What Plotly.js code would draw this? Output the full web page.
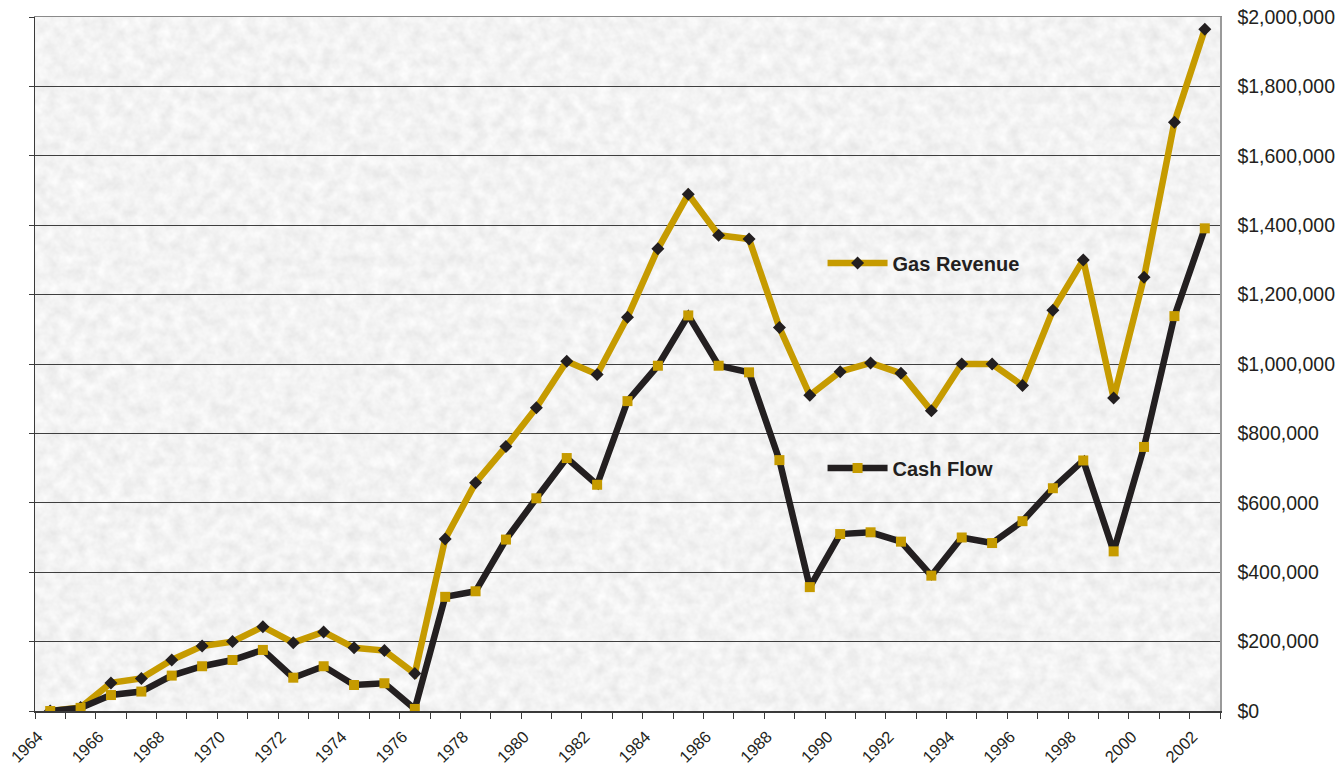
<!DOCTYPE html>
<html>
<head>
<meta charset="utf-8">
<script src="https://cdn.plot.ly/plotly-3.0.1.min.js"></script>
<style>
  html, body { margin: 0; padding: 0; background: #ffffff; }
  #chart { width: 1336px; height: 768px; }
</style>
</head>
<body>
<div id="chart"></div>
<script>
// ---- data ----
const years = [1964, 1965, 1966, 1967, 1968, 1969, 1970, 1971, 1972, 1973, 1974, 1975, 1976,
               1977, 1978, 1979, 1980, 1981, 1982, 1983, 1984, 1985, 1986, 1987, 1988, 1989,
               1990, 1991, 1992, 1993, 1994, 1995, 1996, 1997, 1998, 1999, 2000, 2001, 2002];

const gasRevenue = [0, 10000, 81000, 94000, 147000, 187000, 200000, 243000, 197000, 228000, 182000, 174000, 108000,
                    496000, 658000, 762000, 874000, 1008000, 970000, 1135000, 1332000, 1489000, 1371000, 1360000, 1105000, 910000,
                    978000, 1003000, 973000, 865000, 1000000, 1000000, 938000, 1155000, 1300000, 902000, 1250000, 1697000, 1965000];

const cashFlow = [0, 9000, 46000, 56000, 102000, 129000, 147000, 176000, 96000, 129000, 75000, 80000, 6000,
                  329000, 345000, 494000, 613000, 729000, 652000, 893000, 995000, 1140000, 995000, 976000, 723000, 357000,
                  510000, 515000, 488000, 390000, 500000, 484000, 547000, 642000, 722000, 460000, 761000, 1138000, 1391000];

const seriesNames = ["Gas Revenue", "Cash Flow"];
const xTickLabels = ["1964", "1966", "1968", "1970", "1972", "1974", "1976", "1978", "1980", "1982",
                     "1984", "1986", "1988", "1990", "1992", "1994", "1996", "1998", "2000", "2002"];
const yTickValues = [0, 200000, 400000, 600000, 800000, 1000000, 1200000, 1400000, 1600000, 1800000, 2000000];
const yTickLabels = ["$0", "$200,000", "$400,000", "$600,000", "$800,000", "$1,000,000",
                     "$1,200,000", "$1,400,000", "$1,600,000", "$1,800,000", "$2,000,000"];

// ---- styling ----
const GOLD = "#c69b00";
const DARK = "#231f20";
const FONT = "Liberation Sans, Arial, Helvetica, sans-serif";
const LABEL_SHIFT = -0.4;   // rotated year labels sit slightly left of their category

// procedural paper-like texture for the plot background
const texSvg =
  '<svg xmlns="http://www.w3.org/2000/svg" width="1185" height="694">' +
  '<filter id="n" x="0" y="0" width="100%" height="100%">' +
  '<feTurbulence type="fractalNoise" baseFrequency="0.08" numOctaves="3" seed="7"/>' +
  '<feColorMatrix type="matrix" values="0.24 0 0 0 0.775  0.24 0 0 0 0.775  0.24 0 0 0 0.775  0 0 0 0 1"/>' +
  '</filter>' +
  '<rect width="100%" height="100%" fill="#e6e6e6"/>' +
  '<rect width="100%" height="100%" filter="url(#n)"/>' +
  '</svg>';
const texUri = "data:image/svg+xml;charset=utf-8," + encodeURIComponent(texSvg);

const traces = [
  {
    type: "scatter", mode: "lines+markers",
    name: seriesNames[0], x: years, y: gasRevenue,
    line: { color: GOLD, width: 6.5 },
    marker: { symbol: "diamond", color: DARK, size: 10 },
    legend: "legend"
  },
  {
    type: "scatter", mode: "lines+markers",
    name: seriesNames[1], x: years, y: cashFlow,
    line: { color: DARK, width: 6.5 },
    marker: { symbol: "square", color: GOLD, size: 10 },
    legend: "legend2"
  }
];

const legendCommon = {
  bgcolor: "rgba(0,0,0,0)",
  borderwidth: 0,
  xanchor: "left",
  yanchor: "middle",
  itemwidth: 60,
  font: { family: FONT, size: 20, color: DARK, weight: "bold" },
  itemclick: false,
  itemdoubleclick: false
};

const layout = {
  width: 1336,
  height: 768,
  margin: { l: 35, r: 116, t: 17, b: 57, pad: 0 },
  paper_bgcolor: "#ffffff",
  plot_bgcolor: "#e6e6e6",
  showlegend: true,
  legend: Object.assign({}, legendCommon, { x: 0.6646, y: 0.6455 }),
  legend2: Object.assign({}, legendCommon, { x: 0.6646, y: 0.350 }),
  images: [{
    source: texUri, xref: "paper", yref: "paper",
    x: 0, y: 1, sizex: 1, sizey: 1, sizing: "stretch",
    xanchor: "left", yanchor: "top", layer: "below"
  }],
  xaxis: {
    range: [1963.5, 2002.5],
    tickmode: "array",
    tickvals: xTickLabels.map(function (s) { return Number(s) + LABEL_SHIFT; }),
    ticktext: xTickLabels,
    ticks: "",
    tickangle: -45,
    ticklabelstandoff: 8,
    tickfont: { family: FONT, size: 16.5, color: DARK },
    showgrid: false, zeroline: false,
    showline: true, linecolor: "#3a3a3a", linewidth: 1.5,
    mirror: false,
    minor: { ticks: "outside", tick0: 1963.5, dtick: 1, ticklen: 6, tickcolor: "#3a3a3a", tickwidth: 1, showgrid: false },
    fixedrange: true
  },
  xaxis2: {
    overlaying: "x", side: "top", range: [1963.5, 2002.5],
    showticklabels: false, ticks: "", showgrid: false, zeroline: false,
    showline: true, linecolor: "#8a8a8a", linewidth: 1.5
  },
  yaxis: {
    range: [0, 2000000],
    tickvals: yTickValues,
    showticklabels: false,
    ticks: "outside", ticklen: 5, tickcolor: "#3a3a3a", tickwidth: 1,
    showgrid: true, gridcolor: "#3e3e3e", gridwidth: 1,
    zeroline: false,
    showline: true, linecolor: "#3a3a3a", linewidth: 1.5,
    fixedrange: true
  },
  yaxis2: {
    overlaying: "y", side: "right", range: [0, 2000000],
    tickmode: "array",
    tickvals: yTickValues,
    ticktext: yTickLabels,
    ticks: "", ticklabelstandoff: 12,
    tickfont: { family: FONT, size: 19.5, color: DARK },
    showgrid: false, zeroline: false,
    showline: true, linecolor: "#9a9a9a", linewidth: 1.5,
    fixedrange: true
  }
};

// invisible helper trace that activates the overlay axes (no data drawn)
traces.push({ type: "scatter", x: [], y: [], xaxis: "x2", yaxis: "y2", showlegend: false, hoverinfo: "skip" });

Plotly.newPlot("chart", traces, layout, { displayModeBar: false, staticPlot: true });
</script>
</body>
</html>
